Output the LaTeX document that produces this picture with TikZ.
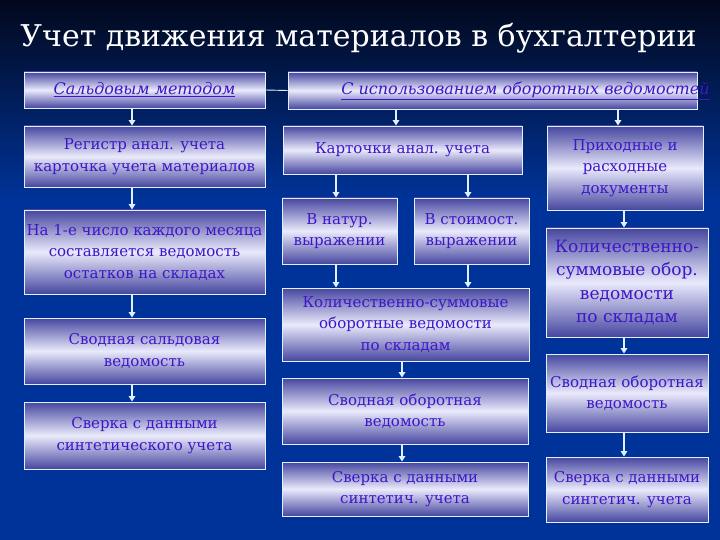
\documentclass[tikz,border=0pt]{standalone}
\usepackage{fontspec}
\setmainfont{DejaVu Serif}
\usetikzlibrary{arrows.meta}
\definecolor{bgtop}{RGB}{2,8,28}
\definecolor{bgmain}{RGB}{0,51,153}
\definecolor{boxdark}{RGB}{70,70,160}
\definecolor{boxlight}{RGB}{234,234,252}
\definecolor{boxtext}{RGB}{62,22,200}
\definecolor{linecol}{RGB}{225,240,255}
\begin{document}
\begin{tikzpicture}[x=1pt, y=-1pt,
    grbox/.style={rectangle, draw=linecol, line width=0.9pt, top color=boxdark, bottom color=boxdark, middle color=boxlight, text=boxtext, align=center, inner sep=0pt, font=\fontsize{15}{21.5}\selectfont},
    headtext/.style={text=boxtext, font=\fontsize{16}{20}\selectfont\itshape}
    ]
    \tikzset{flow/.style={draw=linecol, line width=1.8pt, -{Triangle[width=6.5pt,length=5.5pt]}}}
    \tikzset{link/.style={draw=linecol, line width=0.9pt}}
    \useasboundingbox (0,0) rectangle (720,540);
    %
    %background
    %
    \fill[bgmain] (0,0) rectangle (720,540);
    \shade[top color=bgtop, bottom color=bgmain] (0,0) rectangle (720,200);
    \node[text=white, font=\fontsize{30}{36}\selectfont] (title) at (358.5,38) {Учет движения материалов в бухгалтерии};
    %
    %vertices
    %
    \node[grbox, minimum width=241pt, minimum height=36pt] (saldo) at (144.5,90) {\underline{\fontsize{16}{20}\selectfont\itshape Сальдовым методом}};
    \node[grbox, minimum width=409pt, minimum height=37pt,
        label={[headtext, xshift=33pt]center:\underline{С использованием оборотных ведомостей}}] (oborot) at (492.5,90.5) {};
    \node[grbox, minimum width=241pt, minimum height=61pt] (register) at (144.5,156.5) {Регистр анал. учета\\карточка учета материалов};
    \node[grbox, minimum width=239pt, minimum height=48pt] (kartochki) at (402.5,150) {Карточки анал. учета};
    \node[grbox, minimum width=156pt, minimum height=84pt] (prikhod) at (625,168) {Приходные и\\расходные\\документы};
    \node[grbox, minimum width=241pt, minimum height=84pt] (pervoe) at (144.5,252) {На 1-е число каждого месяца\\составляется ведомость\\остатков на складах};
    \node[grbox, minimum width=115pt, minimum height=66pt] (natur) at (339.5,231) {В натур.\\выражении};
    \node[grbox, minimum width=115pt, minimum height=66pt] (stoim) at (471.5,231) {В стоимост.\\выражении};
    \node[grbox, minimum width=247pt, minimum height=73pt] (kolsumm) at (405.5,324.5) {Количественно-суммовые\\оборотные ведомости\\по складам};
    \node[grbox, minimum width=162pt, minimum height=109pt, font=\fontsize{17}{23.5}\selectfont] (kolobor) at (627,282.5) {Количественно-\\суммовые обор.\\ведомости\\по складам};
    \node[grbox, minimum width=241pt, minimum height=66pt] (svodsald) at (144.5,351) {Сводная сальдовая\\ведомость};
    \node[grbox, minimum width=246pt, minimum height=66pt] (svodmid) at (405,411) {Сводная оборотная\\ведомость};
    \node[grbox, minimum width=162pt, minimum height=78pt] (svodright) at (627,393) {Сводная оборотная\\ведомость};
    \node[grbox, minimum width=241pt, minimum height=67pt] (sverkaleft) at (144.5,435.5) {Сверка с данными\\синтетического учета};
    \node[grbox, minimum width=246pt, minimum height=54pt] (sverkamid) at (405,489) {Сверка с данными\\синтетич. учета};
    \node[grbox, minimum width=162pt, minimum height=65pt] (sverkaright) at (627,489.5) {Сверка с данными\\синтетич. учета};
    %
    %arrow columns
    %
    \coordinate (colA) at (132,0);
    \coordinate (colB) at (396,0);
    \coordinate (colC) at (618,0);
    \coordinate (colD) at (336,0);
    \coordinate (colE) at (468,0);
    \coordinate (colF) at (402,0);
    \coordinate (colG) at (624,0);
    %
    %edges
    %
    \draw[link] (saldo.east) -- (oborot.west);
    \draw[flow] (saldo.south -| colA) -- (register.north -| colA);
    \draw[flow] (register.south -| colA) -- (pervoe.north -| colA);
    \draw[flow] (pervoe.south -| colA) -- (svodsald.north -| colA);
    \draw[flow] (svodsald.south -| colA) -- (sverkaleft.north -| colA);
    \draw[flow] (oborot.south -| colB) -- (kartochki.north -| colB);
    \draw[flow] (oborot.south -| colC) -- (prikhod.north -| colC);
    \draw[flow] (kartochki.south -| colD) -- (natur.north -| colD);
    \draw[flow] (kartochki.south -| colE) -- (stoim.north -| colE);
    \draw[flow] (natur.south -| colD) -- (kolsumm.north -| colD);
    \draw[flow] (stoim.south -| colE) -- (kolsumm.north -| colE);
    \draw[flow] (kolsumm.south -| colF) -- (svodmid.north -| colF);
    \draw[flow] (svodmid.south -| colF) -- (sverkamid.north -| colF);
    \draw[flow] (prikhod.south -| colG) -- (kolobor.north -| colG);
    \draw[flow] (kolobor.south -| colG) -- (svodright.north -| colG);
    \draw[flow] (svodright.south -| colG) -- (sverkaright.north -| colG);
\end{tikzpicture}
\end{document}
